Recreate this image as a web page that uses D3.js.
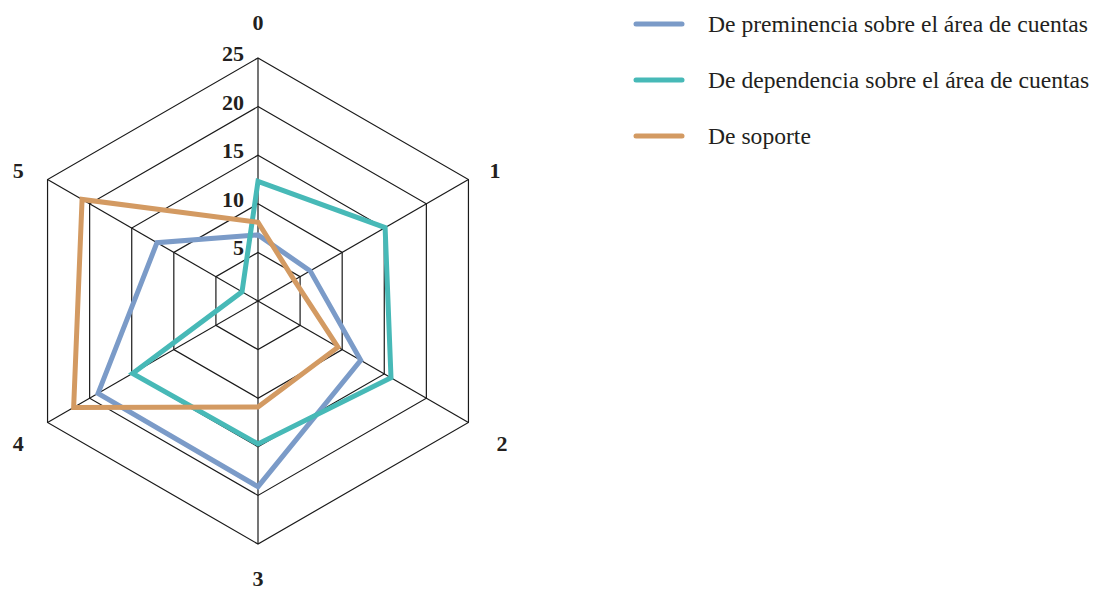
<!DOCTYPE html>
<html>
<head>
<meta charset="utf-8">
<script src="https://cdn.jsdelivr.net/npm/d3@7"></script>
<style>
  html, body { margin: 0; padding: 0; background: #fff; }
  svg { display: block; }
  text { font-family: "Liberation Serif", "DejaVu Serif", serif; fill: #231f20; }
</style>
</head>
<body>
<svg id="chart" width="1112" height="591"></svg>
<script>
// Axes of the radar (six dimensions)
const axes = ["0", "1", "2", "3", "4", "5"];
// Ring values shown on the scale
const ticks = [5, 10, 15, 20, 25];

const seriesNames = [
  "De preminencia sobre el área de cuentas",
  "De dependencia sobre el área de cuentas",
  "De soporte"
];
const preminencia = [6.8, 6.2, 12.2, 19.1, 19, 12];
const dependencia = [12.3, 15.1, 15.8, 14.7, 14.9, 1.9];
const soporte = [8.1, 4.3, 9.5, 10.9, 21.9, 20.9];
const colors = ["#7b9bc8", "#47b9b7", "#d39a62"];

const svg = d3.select("#chart");
const cx = 258, cy = 301, R = 243;

const r = d3.scaleLinear().domain([0, 25]).range([0, R]);
const angle = d3.scalePoint().domain(axes).range([0, 2 * Math.PI * (axes.length - 1) / axes.length]);

const g = svg.append("g").attr("transform", `translate(${cx},${cy})`);

const pt = (a, v) => [Math.sin(angle(a)) * r(v), -Math.cos(angle(a)) * r(v)];

// Hexagonal grid rings
const ring = d3.line().curve(d3.curveLinearClosed);
g.selectAll("path.ring")
  .data(ticks)
  .join("path")
  .attr("class", "ring")
  .attr("d", t => ring(axes.map(a => pt(a, t))))
  .attr("fill", "none")
  .attr("stroke", "#1a1a1a")
  .attr("stroke-width", 1.2);

// Spokes
g.selectAll("line.spoke")
  .data(axes)
  .join("line")
  .attr("class", "spoke")
  .attr("x1", 0).attr("y1", 0)
  .attr("x2", a => pt(a, 25)[0])
  .attr("y2", a => pt(a, 25)[1])
  .attr("stroke", "#1a1a1a")
  .attr("stroke-width", 1.2);

// Scale labels along the first spoke
g.selectAll("text.tick")
  .data(ticks)
  .join("text")
  .attr("class", "tick")
  .attr("x", -14)
  .attr("y", t => -r(t) + 3)
  .attr("text-anchor", "end")
  .attr("font-size", 22)
  .attr("font-weight", "bold")
  .text(t => t);

// Axis labels
const labelOffset = { "0": [0, -2], "1": [-3, 8], "2": [4, 4], "3": [0, 0], "4": [0, 4], "5": [0, 8] };
g.selectAll("text.axis")
  .data(axes)
  .join("text")
  .attr("class", "axis")
  .attr("x", a => Math.sin(angle(a)) * (R + 34) + labelOffset[a][0])
  .attr("y", a => -Math.cos(angle(a)) * (R + 34) + labelOffset[a][1])
  .attr("text-anchor", "middle")
  .attr("dominant-baseline", "central")
  .attr("font-size", 22)
  .attr("font-weight", "bold")
  .text(a => a);

// Series polygons
const radial = d3.lineRadial()
  .angle((d, i) => angle(axes[i]))
  .radius(d => r(d))
  .curve(d3.curveLinearClosed);

const series = [preminencia, dependencia, soporte];
g.selectAll("path.series")
  .data(series)
  .join("path")
  .attr("class", "series")
  .attr("d", d => radial(d))
  .attr("fill", "none")
  .attr("stroke", (d, i) => colors[i])
  .attr("stroke-width", 5)
  .attr("stroke-linejoin", "miter");

// Legend
const legend = svg.append("g").attr("transform", "translate(636,24)");
const rows = legend.selectAll("g")
  .data(seriesNames)
  .join("g")
  .attr("transform", (d, i) => `translate(0,${i * 56})`);
rows.append("line")
  .attr("x1", 0).attr("x2", 46)
  .attr("stroke", (d, i) => colors[i])
  .attr("stroke-width", 5)
  .attr("stroke-linecap", "round");
rows.append("text")
  .attr("x", 72)
  .attr("y", 0)
  .attr("dominant-baseline", "central")
  .attr("font-size", 23.6)
  .text(d => d);
</script>
</body>
</html>
